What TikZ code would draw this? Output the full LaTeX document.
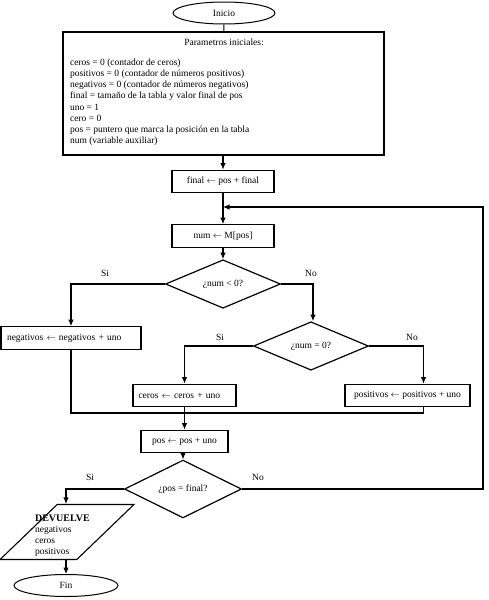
\documentclass[tikz,border=0pt]{standalone}
\usepackage{fontspec}
\setmainfont{Liberation Serif}
\usetikzlibrary{shapes.geometric,arrows.meta}
\begin{document}
\begin{tikzpicture}[x=1pt,y=-1pt,
  line width=1.1pt,
  every node/.style={font=\fontsize{9.5}{11.1}\selectfont},
  term/.style={draw,ellipse,minimum width=102pt,minimum height=22pt,inner sep=0pt,line width=1pt},
  proc/.style={draw,rectangle,minimum height=22.5pt,inner sep=0pt,line width=1.2pt},
  dec/.style={draw,diamond,minimum width=115pt,minimum height=38pt,inner sep=0pt,line width=1.2pt},
  iobox/.style={draw,trapezium,trapezium left angle=66,trapezium right angle=114,trapezium stretches=true,minimum width=134pt,minimum height=55pt,inner sep=1pt,line width=1.1pt},
  lbl/.style={font=\fontsize{9.5}{11}\selectfont},
  arr/.style={-{Latex[length=6.5pt,width=5.5pt]}},
  txt/.style={inner sep=0pt,align=left,anchor=north west}
]
\useasboundingbox (0,0) rectangle (488,600);
\fill[white] (0,0) rectangle (488,600);

\node[term] (ini) at (224,13) {Inicio};
\node[draw,rectangle,minimum width=321pt,minimum height=123pt,line width=1.2pt,inner sep=0pt] (par) at (223.5,93.5) {};
\node[inner sep=0pt] (partit) at (224,42) {Parametros iniciales:};
\node[txt] (parbody) at (69.5,58.5) {ceros = 0 (contador de ceros)\\
positivos = 0 (contador de números positivos)\\
negativos = 0 (contador de números negativos)\\
final = tamaño de la tabla y valor final de pos\\
uno = 1\\
cero = 0\\
pos = puntero que marca la posición en la tabla\\
num (variable auxiliar)};

\node[proc,minimum width=102pt] (fin0) at (223,181.5) {final $\leftarrow$ pos + final};
\node[proc,minimum width=102pt] (num) at (223,236) {num $\leftarrow$ M[pos]};
\node[dec] (d1) at (223,284) {¿num < 0?};
\node[proc,minimum width=140pt,text width=128pt,align=left] (neg) at (71,338) {negativos $\leftarrow$ negativos + uno};
\node[dec] (d2) at (311,346) {¿num = 0?};
\node[proc,minimum width=103pt,text width=92pt,align=left] (cer) at (184.5,395.5) {ceros $\leftarrow$ ceros + uno};
\node[proc,minimum width=125pt] (posi) at (407.5,395.5) {positivos $\leftarrow$ positivos + uno};
\node[proc,minimum width=87pt] (posb) at (184.5,441.5) {pos $\leftarrow$ pos + uno};
\node[dec,minimum width=117pt] (d3) at (183,489) {¿pos = final?};
\node[iobox] (dev) at (67,532) {\strut};
\node[txt] (devtxt) at (34.5,514) {\fontsize{10}{11.8}\selectfont\bfseries DEVUELVE\\ \fontsize{9.5}{11.8}\selectfont negativos\\ ceros\\ positivos};
\node[term,minimum width=104pt] (fin) at (66,585.5) {Fin};

\node[lbl] (si1) at (105,273) {Si};
\node[lbl] (no1) at (311,273) {No};
\node[lbl] (si2) at (220,337) {Si};
\node[lbl] (no2) at (412,337) {No};
\node[lbl] (si3) at (90,477) {Si};
\node[lbl] (no3) at (258,477) {No};

\coordinate (mj) at (184.5,413);
\coordinate (lr) at (483,207);
\coordinate (lj) at (223,207);

\draw (ini) -- (par);
\draw[arr] (par.south -| fin0.north) -- (fin0);
\draw[arr] (fin0) -- (num);
\draw[arr] (num) -- (d1);
\draw[arr] (d1.west) -| (neg.north);
\draw[arr] (d1.east) -| ([xshift=2pt]d2.north);
\draw[arr] (d2.west) -| (cer.north);
\draw[arr] (d2.east) -| ([xshift=16pt]posi.north);
\draw (neg.south) |- (mj);
\draw ([xshift=16pt]posi.south) |- (mj);
\draw[arr] (cer.south) -- (posb.north);
\draw[arr] (posb.south -| d3.north) -- (d3.north);
\draw[arr] (d3.west) -| ([xshift=-1pt]dev.north);
\draw[arr] (d3.east) -| (lr) -- (lj);
\draw[arr] ([xshift=-1pt]dev.south) -- (fin.north);
\end{tikzpicture}
\end{document}
